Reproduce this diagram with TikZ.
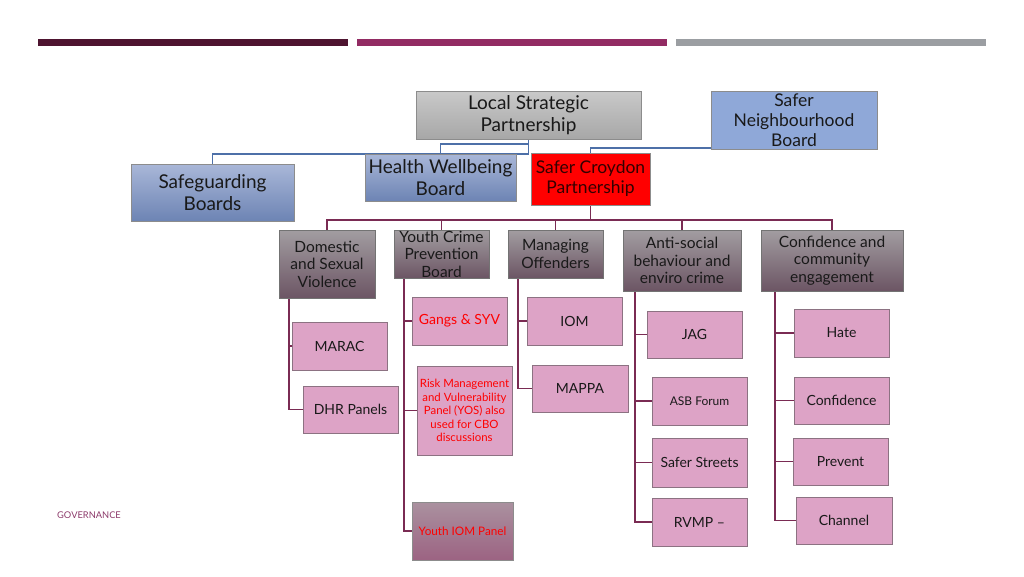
\documentclass[tikz,border=0pt]{standalone}
\usepackage{fontspec}
\setmainfont{Lato}
\usepackage{tikz}
\usetikzlibrary{backgrounds}

\definecolor{barwine}{HTML}{4E1430}
\definecolor{barplum}{HTML}{922B63}
\definecolor{bargrey}{HTML}{9B9EA2}
\definecolor{grptop}{HTML}{A29DA1}
\definecolor{grpbot}{HTML}{6C5564}
\definecolor{leafpink}{HTML}{DDA3C6}
\definecolor{leafline}{HTML}{8C7282}
\definecolor{iomtop}{HTML}{AA919F}
\definecolor{iombot}{HTML}{9C6382}
\definecolor{bluetop}{HTML}{A9B7D8}
\definecolor{bluebot}{HTML}{6D84B4}
\definecolor{snbblue}{HTML}{8FA8D8}
\definecolor{lsptop}{HTML}{C9C9C9}
\definecolor{lspbot}{HTML}{A7A7A7}
\definecolor{linkwine}{HTML}{7A2B53}
\definecolor{linkblue}{HTML}{4D70A8}
\definecolor{govtext}{HTML}{8C3A6A}

\tikzset{
  topbox/.style={draw=black!45, inner sep=0pt, align=center, text=black!90},
  greybox/.style={topbox, top color=lsptop, bottom color=lspbot, font=\fontsize{19}{22}\selectfont},
  bluebox/.style={topbox, top color=bluetop, bottom color=bluebot, font=\fontsize{19}{22}\selectfont},
  grpbox/.style={draw=black!55, top color=grptop, bottom color=grpbot, inner sep=0pt, align=center,
    text=black!90, font=\fontsize{15.5}{17.5}\selectfont, minimum width=95pt, minimum height=48pt},
  leafbox/.style={draw=leafline, fill=leafpink, inner sep=0pt, align=center, text=black!90,
    font=\fontsize{14}{16}\selectfont, minimum width=95pt, minimum height=48pt},
  redtext/.style={text=red},
  wirelink/.style={draw=linkwine, line width=1.5pt},
  bluelink/.style={draw=linkblue, line width=1.5pt},
}

\begin{document}
\begin{tikzpicture}[x=1pt, y=-1pt]
  \useasboundingbox (0,0) rectangle (1024,576);

  % header bars
  \fill[barwine] (38,39) rectangle (348,46);
  \fill[barplum] (357,39) rectangle (667,46);
  \fill[bargrey] (676,39) rectangle (986,46);

  % top level
  \node[greybox, minimum width=225pt, minimum height=48pt] (lsp) at (528.5,115) {Local Strategic\\Partnership};
  \node[topbox, fill=snbblue, minimum width=166pt, minimum height=58pt, font=\fontsize{17.5}{20}\selectfont] (snb) at (794,120) {Safer\\Neighbourhood\\Board};
  \node[bluebox, minimum width=151pt, minimum height=47pt] (hwb) at (440.5,177.5) {Health Wellbeing\\Board};
  \node[topbox, fill=red, minimum width=119pt, minimum height=52pt, font=\fontsize{17.5}{20}\selectfont, text=black!80!red] (scp) at (590.5,179) {Safer Croydon\\Partnership};
  \node[bluebox, minimum width=163pt, minimum height=57pt] (sgb) at (212.5,192.5) {Safeguarding\\Boards};

  % second level
  \node[grpbox, minimum width=96pt, minimum height=68pt] (dsv) at (327,264) {Domestic\\and Sexual\\Violence};
  \node[grpbox] (ycpb) at (441.5,254) {Youth Crime\\Prevention\\Board};
  \node[grpbox] (mo) at (555.5,254) {Managing\\Offenders};
  \node[grpbox, minimum width=118pt, minimum height=61pt] (asb) at (682,260.5) {Anti-social\\behaviour and\\enviro crime};
  \node[grpbox, minimum width=142pt, minimum height=61pt] (cce) at (832,260.5) {Confidence and\\community\\engagement};

  % third level
  \node[leafbox] (marac) at (339.5,346) {MARAC};
  \node[leafbox, minimum height=47pt] (dhr) at (350.5,409.5) {DHR Panels};
  \node[leafbox, redtext] (gangs) at (459.5,321) {Gangs \& SYV};
  \node[leafbox, redtext, minimum height=89pt, font=\fontsize{11.4}{13.5}\selectfont] (rmvp) at (464.5,410.5) {Risk Management\\and Vulnerability\\Panel (YOS) also\\used for CBO\\discussions};
  \node[leafbox, redtext, draw=black!45, top color=iomtop, bottom color=iombot, minimum width=101pt, minimum height=58pt, font=\fontsize{11.7}{14}\selectfont] (yiom) at (462.5,531) {Youth IOM Panel};
  \node[leafbox] (iom) at (574.5,321) {IOM};
  \node[leafbox, minimum width=96pt, minimum height=47pt] (mappa) at (580,388.5) {MAPPA};
  \node[leafbox, minimum height=47pt] (jag) at (694.5,334.5) {JAG};
  \node[leafbox, font=\fontsize{12}{14}\selectfont] (asbf) at (699.5,401) {ASB Forum};
  \node[leafbox, minimum height=49pt] (ss) at (699.5,462.5) {Safer Streets};
  \node[leafbox] (rvmp) at (699.5,522) {RVMP --};
  \node[leafbox] (hate) at (841.5,333) {Hate};
  \node[leafbox, minimum height=47pt] (conf) at (841.5,400.5) {Confidence};
  \node[leafbox, minimum height=47pt] (prev) at (840.5,461.5) {Prevent};
  \node[leafbox, minimum width=96pt, minimum height=47pt] (chan) at (844,520.5) {Channel};

  \node[anchor=west, inner sep=0pt, text=govtext, font=\fontsize{9.3}{11}\selectfont] (gov) at (57,515) {GOVERNANCE};

  % connectors
  \begin{scope}[on background layer]
    \draw[bluelink] (lsp.south) -- ++(0,5) -| (hwb.north);
    \draw[bluelink] (lsp.south) -- ++(0,15) -| (sgb.north);
    \draw[bluelink] ([yshift=1pt]snb.south west) -| (scp.north);

    \coordinate (bus) at (590.5,220);
    \draw[wirelink] (scp.south) -- (bus);
    \foreach \b in {dsv,ycpb,mo,asb,cce}
      \draw[wirelink] (bus) -| (\b.north);

    \foreach \c in {marac,dhr}
      \draw[wirelink] ([xshift=10pt]dsv.south west) |- (\c.west);
    \foreach \c in {gangs,rmvp,yiom}
      \draw[wirelink] ([xshift=10pt]ycpb.south west) |- (\c.west);
    \foreach \c in {iom,mappa}
      \draw[wirelink] ([xshift=10pt]mo.south west) |- (\c.west);
    \foreach \c in {jag,asbf,ss,rvmp}
      \draw[wirelink] ([xshift=12pt]asb.south west) |- (\c.west);
    \foreach \c in {hate,conf,prev,chan}
      \draw[wirelink] ([xshift=14pt]cce.south west) |- (\c.west);
  \end{scope}
\end{tikzpicture}
\end{document}
